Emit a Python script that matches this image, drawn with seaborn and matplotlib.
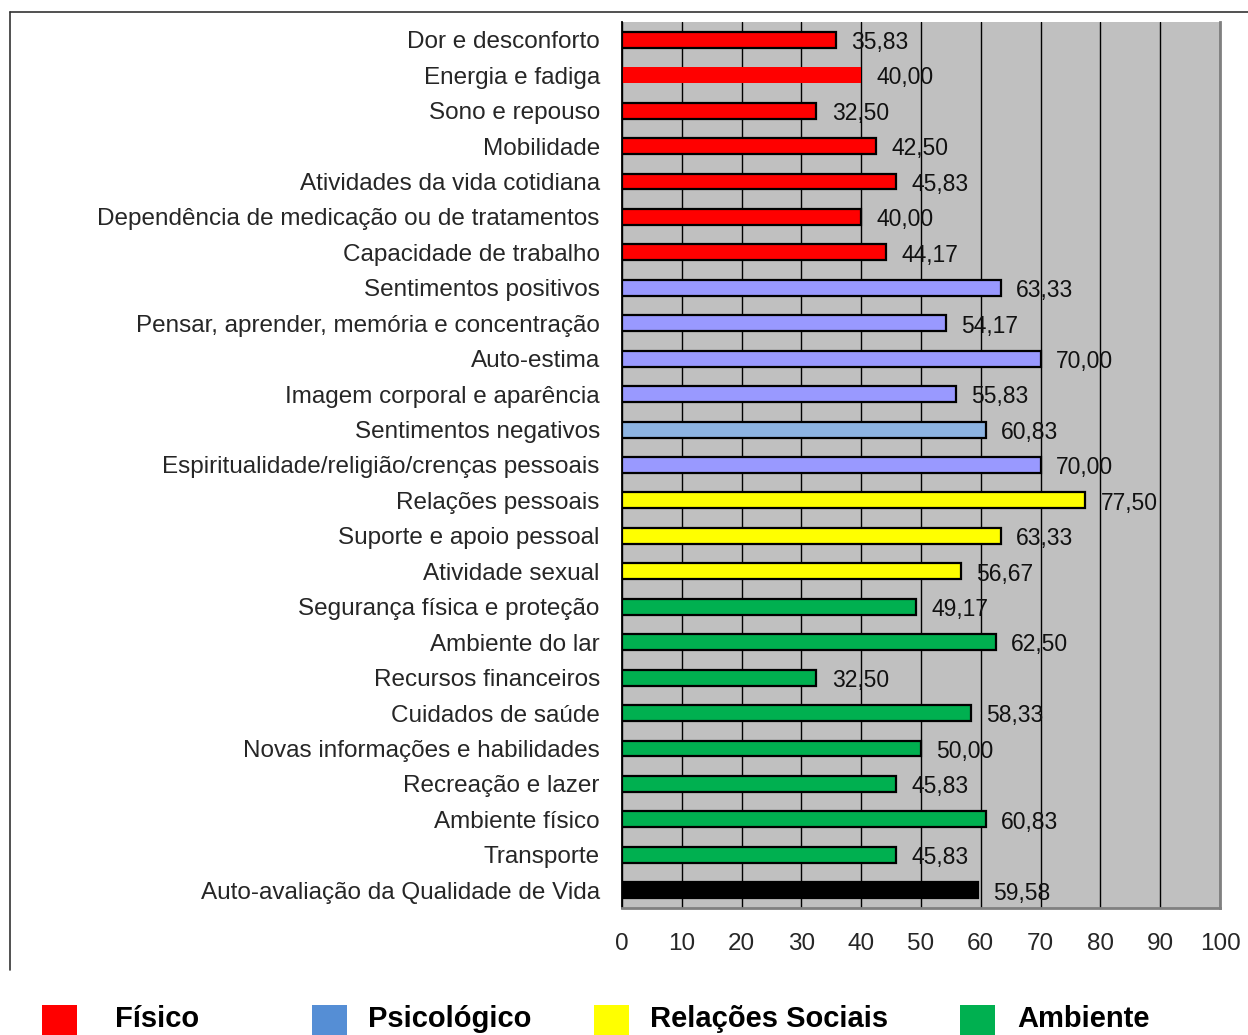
import matplotlib
matplotlib.use("Agg")
import matplotlib.pyplot as plt
import seaborn as sns
import pandas as pd
from matplotlib.lines import Line2D

categories = [
    "Dor e desconforto", "Energia e fadiga", "Sono e repouso", "Mobilidade",
    "Atividades da vida cotidiana", "Dependência de medicação ou de tratamentos",
    "Capacidade de trabalho", "Sentimentos positivos",
    "Pensar, aprender, memória e concentração", "Auto-estima",
    "Imagem corporal e aparência", "Sentimentos negativos",
    "Espiritualidade/religião/crenças pessoais", "Relações pessoais",
    "Suporte e apoio pessoal", "Atividade sexual", "Segurança física e proteção",
    "Ambiente do lar", "Recursos financeiros", "Cuidados de saúde",
    "Novas informações e habilidades", "Recreação e lazer", "Ambiente físico",
    "Transporte", "Auto-avaliação da Qualidade de Vida",
]
values = [35.83, 40.00, 32.50, 42.50, 45.83, 40.00, 44.17, 63.33, 54.17, 70.00,
          55.83, 60.83, 70.00, 77.50, 63.33, 56.67, 49.17, 62.50, 32.50, 58.33,
          50.00, 45.83, 60.83, 45.83, 59.58]
bar_colors = (["#FF0000"] * 7 + ["#9999FF"] * 4 + ["#8DB4E2"] + ["#9999FF"]
              + ["#FFFF00"] * 3 + ["#00B050"] * 8 + ["#000000"])
legend_labels = ["Físico", "Psicológico", "Relações Sociais", "Ambiente"]
legend_colors = ["#FF0000", "#558ED5", "#FFFF00", "#00B050"]
x_ticks = [0, 10, 20, 30, 40, 50, 60, 70, 80, 90, 100]

sns.set_theme(style="white")
plt.rcParams["font.family"] = ["Liberation Sans", "DejaVu Sans"]

df = pd.DataFrame({"cat": categories, "val": values})
fig = plt.figure(figsize=(12.48, 10.35), dpi=100)
ax = fig.add_axes([622 / 1248, 1 - 908 / 1035, (1220 - 622) / 1248, (908 - 22) / 1035])

sns.barplot(data=df, y="cat", x="val", hue="cat", palette=bar_colors,
            orient="h", width=0.45, legend=False, ax=ax, saturation=1)

for i, p in enumerate(ax.patches):
    if categories[i] == "Energia e fadiga":
        p.set_edgecolor("none")
    else:
        p.set_edgecolor("black")
        p.set_linewidth(1.6)

for cont in ax.containers:
    anns = ax.bar_label(cont, labels=[f"{v:.2f}".replace(".", ",") for v in cont.datavalues],
                        padding=11, fontsize=16.5, color="#111111")
    for a in anns:
        a.xyann = (11, -2)

ax.set_facecolor("#C0C0C0")
ax.set_xlim(0, 100)
ax.set_ylim(len(categories) - 0.5, -0.5)
ax.set_xticks(x_ticks)
ax.set_xticklabels([str(t) for t in x_ticks], fontsize=17.5)
ax.grid(axis="x", color="black", linewidth=1.0)
ax.set_axisbelow(True)
ax.tick_params(axis="x", length=0, pad=18)
ax.tick_params(axis="y", which="major", length=0, pad=16, labelsize=17.5)
ax.set_yticks([i + 0.5 for i in range(-1, len(categories))], minor=True)
ax.tick_params(axis="y", which="minor", length=9, direction="out", width=1.2, color="black")
ax.set_xlabel("")
ax.set_ylabel("")
ax.spines["top"].set_visible(False)
ax.spines["left"].set_color("black")
ax.spines["left"].set_linewidth(1.3)
ax.spines["bottom"].set_color("#808080")
ax.spines["bottom"].set_linewidth(2)
ax.spines["right"].set_color("#808080")
ax.spines["right"].set_linewidth(2)

# outer frame lines
fig.add_artist(Line2D([10 / 1248, 1.0], [1 - 12 / 1035] * 2, color="#333333", lw=1.2))
fig.add_artist(Line2D([10 / 1248] * 2, [1 - 12 / 1035, 1 - 970 / 1035], color="#333333", lw=1.2))

patch_x = [42, 312, 594, 960]
text_x = [115, 368, 650, 1017]
for px, tx, lab, c in zip(patch_x, text_x, legend_labels, legend_colors):
    fig.patches.append(plt.Rectangle((px / 1248, 0.0), 35 / 1248, 30 / 1035,
                                     transform=fig.transFigure, facecolor=c, edgecolor="none"))
    fig.text(tx / 1248, 1 - 1019 / 1035, lab, fontsize=21, fontweight="bold",
             va="center", ha="left", color="black")

fig.savefig("out.png", dpi=100)
